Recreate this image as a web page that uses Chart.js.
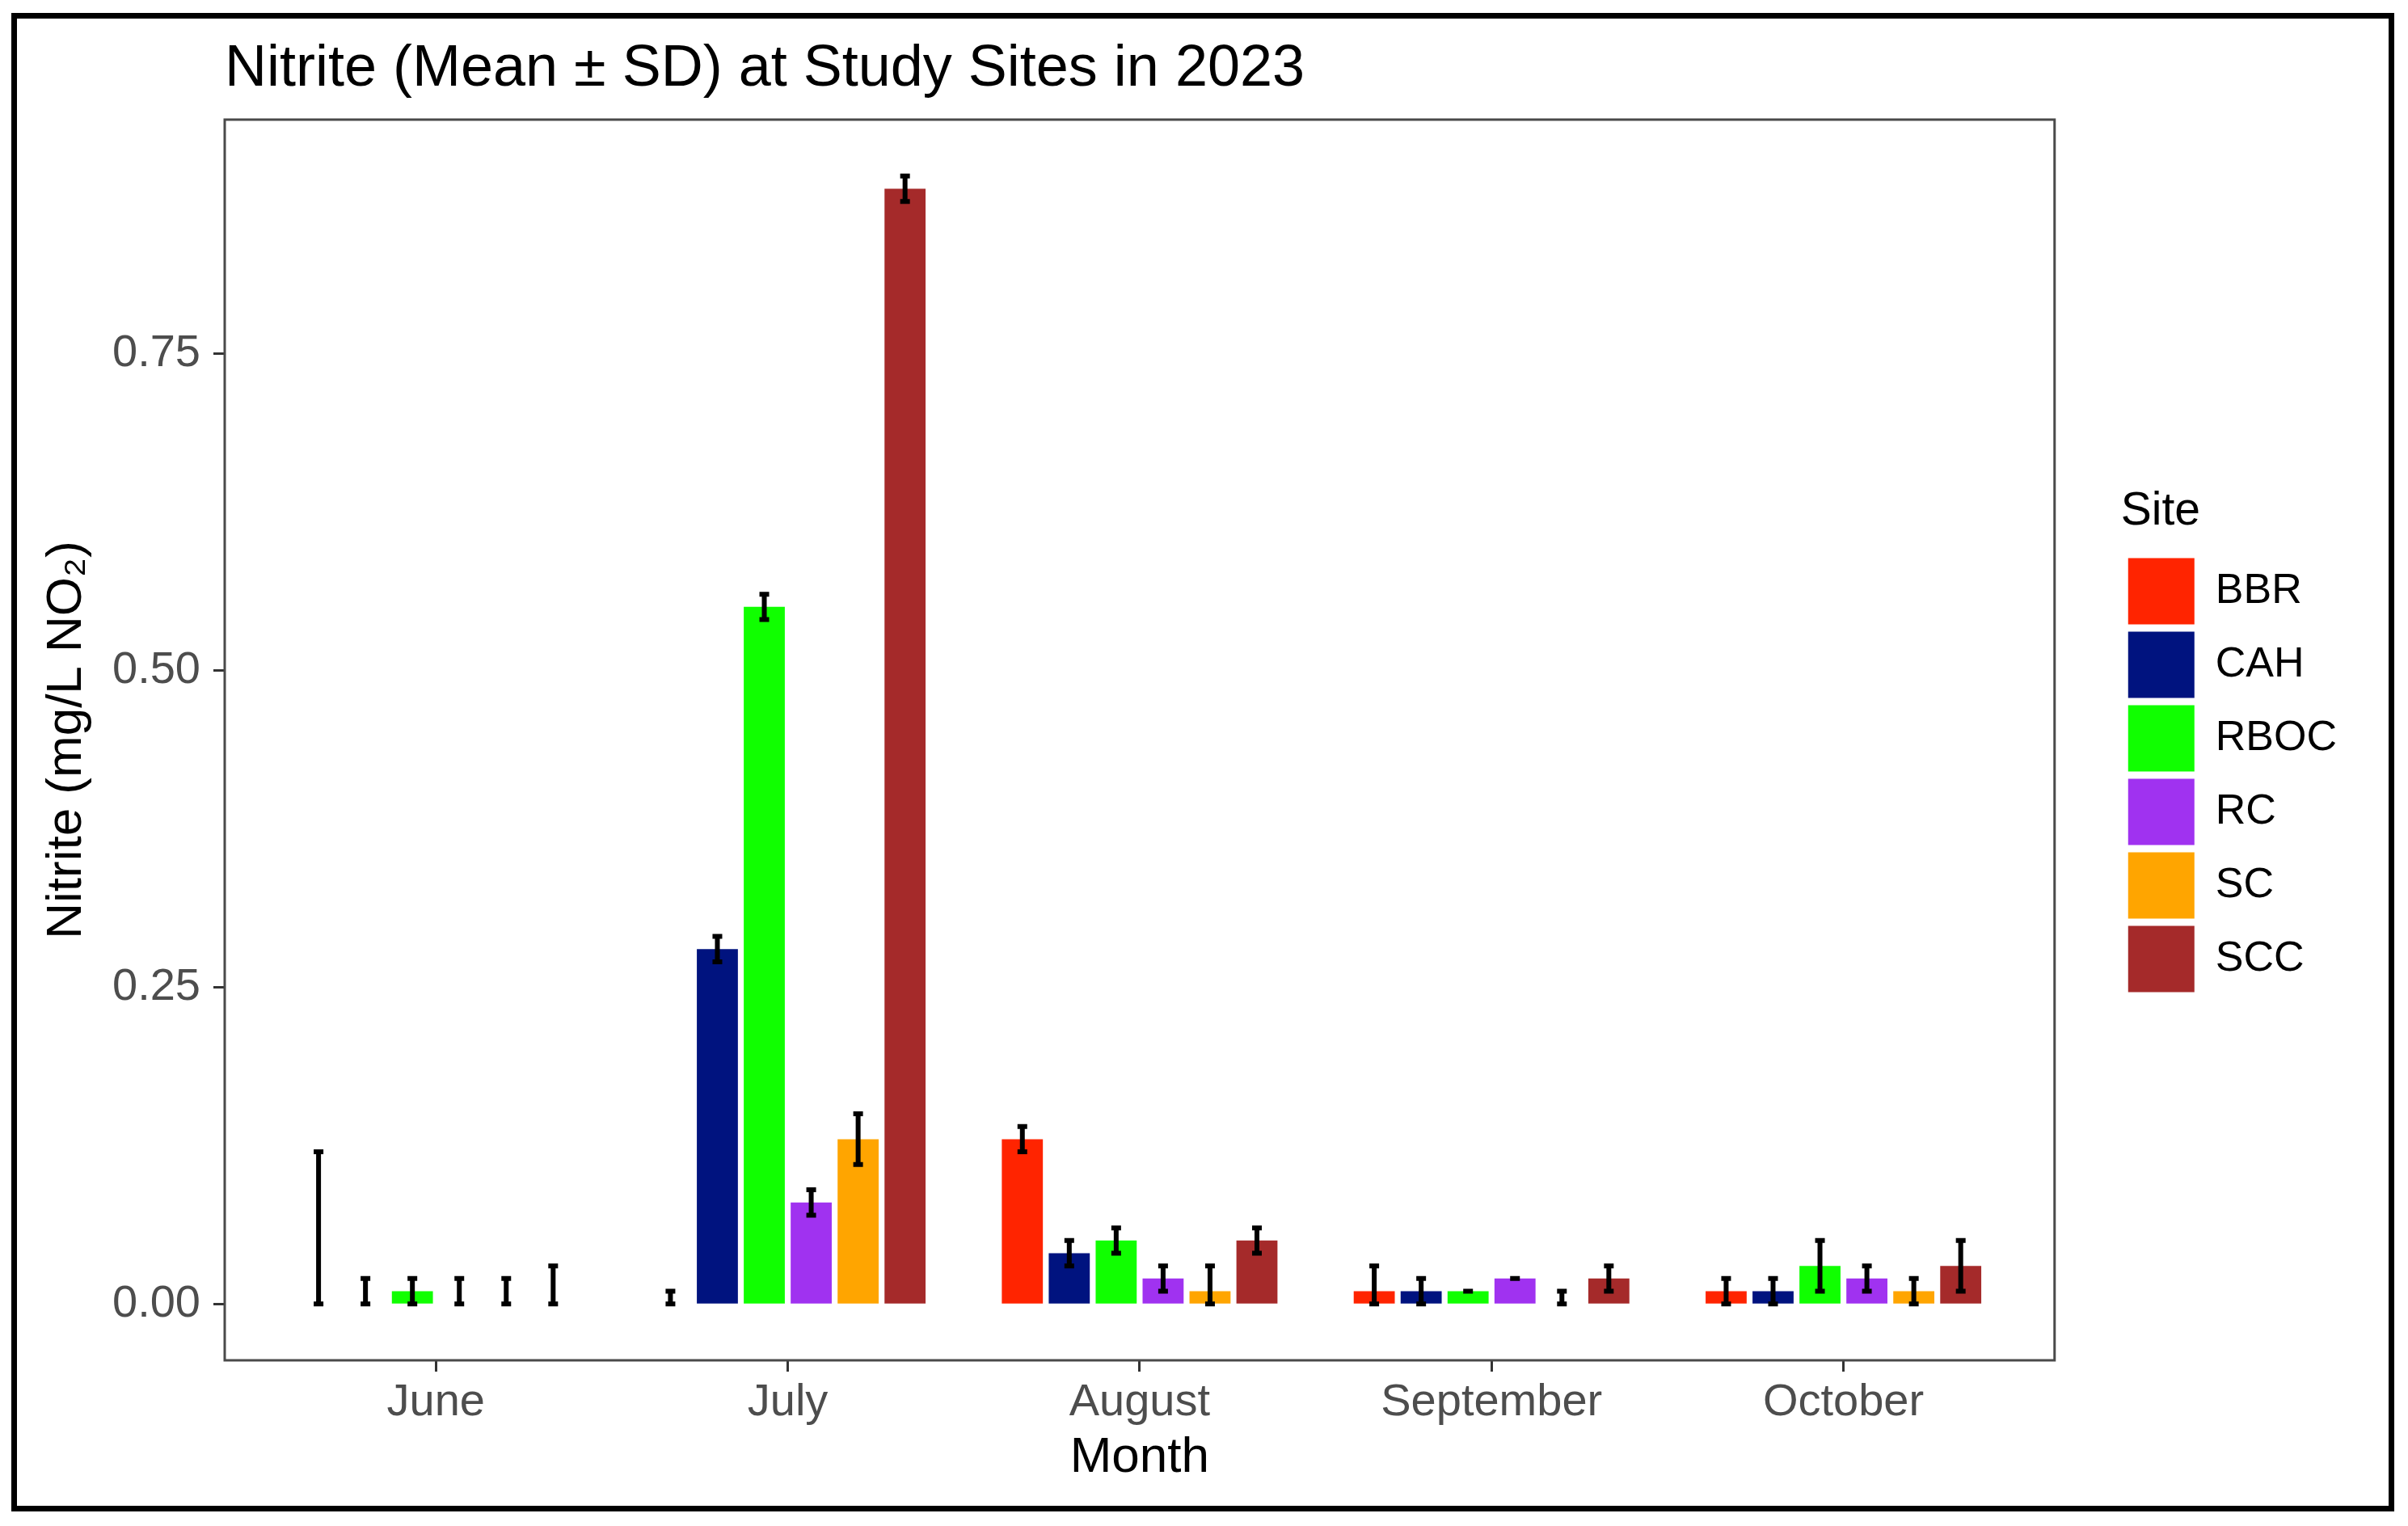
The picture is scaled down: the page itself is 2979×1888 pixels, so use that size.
<!DOCTYPE html>
<html>
<head>
<meta charset="utf-8">
<script src="https://cdn.jsdelivr.net/npm/chart.js@4.4.1/dist/chart.umd.min.js"></script>
<style>
  html, body { margin: 0; padding: 0; background: #ffffff; }
  #wrap { width: 2979px; height: 1888px; }
</style>
</head>
<body>
<div id="wrap"><canvas id="c" width="2979" height="1888"></canvas></div>
<script>
// ---------------- data ----------------
const months = ['June', 'July', 'August', 'September', 'October'];
const sites = ['BBR', 'CAH', 'RBOC', 'RC', 'SC', 'SCC'];
const siteColors = ['#FF2400', '#00137F', '#10FF00', '#A032F0', '#FFA500', '#A52A2A'];

// mean nitrite per site (June..October)
const meanBBR  = [0.00, 0.00, 0.13, 0.01, 0.01];
const meanCAH  = [0.00, 0.28, 0.04, 0.01, 0.01];
const meanRBOC = [0.01, 0.55, 0.05, 0.01, 0.03];
const meanRC   = [0.00, 0.08, 0.02, 0.02, 0.02];
const meanSC   = [0.00, 0.13, 0.01, 0.00, 0.01];
const meanSCC  = [0.00, 0.88, 0.05, 0.02, 0.03];

// standard deviations
const sdBBR  = [0.12, 0.01, 0.01, 0.02, 0.01];
const sdCAH  = [0.02, 0.01, 0.01, 0.01, 0.01];
const sdRBOC = [0.01, 0.01, 0.01, 0.00, 0.02];
const sdRC   = [0.02, 0.01, 0.01, 0.00, 0.01];
const sdSC   = [0.02, 0.02, 0.02, 0.01, 0.01];
const sdSCC  = [0.03, 0.01, 0.01, 0.01, 0.02];

const yTickValues = [0, 0.25, 0.5, 0.75];
const yTickLabels = ['0.00', '0.25', '0.50', '0.75'];

const meansList = [meanBBR, meanCAH, meanRBOC, meanRC, meanSC, meanSCC];
const sdList = [sdBBR, sdCAH, sdRBOC, sdRC, sdSC, sdSCC];

// ---------------- chart ----------------
Chart.defaults.font.family = "'Liberation Sans', Arial, Helvetica, sans-serif";

const datasets = sites.map((s, k) => ({
  label: s,
  data: meansList[k].map((v, i) => ({ x: i, y: v })),
  sd: sdList[k],
  backgroundColor: siteColors[k],
  borderWidth: 0,
  barPercentage: 0.875,
  categoryPercentage: 0.8,
  yAxisID: 'y',
  xAxisID: 'x'
}));

const framePlugin = {
  id: 'frame',
  beforeDraw(chart) {
    const ctx = chart.ctx;
    ctx.save();
    ctx.fillStyle = '#ffffff';
    ctx.fillRect(0, 0, chart.width, chart.height);
    ctx.restore();
  },
  afterDraw(chart) {
    const ctx = chart.ctx;
    ctx.save();
    ctx.strokeStyle = '#000000';
    ctx.lineWidth = 7;
    ctx.strokeRect(17.5, 19.5, 2941, 1847);
    ctx.restore();
  }
};

const panelPlugin = {
  id: 'panel',
  afterDatasetsDraw(chart) {
    const ctx = chart.ctx;
    const ys = chart.scales.y;
    // error bars
    ctx.save();
    ctx.strokeStyle = '#000000';
    ctx.lineWidth = 6;
    ctx.lineCap = 'butt';
    chart.data.datasets.forEach((ds, k) => {
      const meta = chart.getDatasetMeta(k);
      meta.data.forEach((el, i) => {
        const m = ds.data[i].y;
        const sd = ds.sd[i];
        const lo = Math.max(0, m - sd);
        const hi = m + sd;
        const x = el.x;
        const yLo = ys.getPixelForValue(lo);
        const yHi = ys.getPixelForValue(hi);
        const hw = 6;
        ctx.beginPath();
        ctx.moveTo(x, yLo + 3);
        ctx.lineTo(x, yHi - 3);
        ctx.moveTo(x - hw, yHi);
        ctx.lineTo(x + hw, yHi);
        ctx.moveTo(x - hw, yLo);
        ctx.lineTo(x + hw, yLo);
        ctx.stroke();
      });
    });
    ctx.restore();
    // panel border
    const a = chart.chartArea;
    ctx.save();
    ctx.strokeStyle = '#4a4a4a';
    ctx.lineWidth = 3;
    ctx.strokeRect(a.left, a.top, a.right - a.left, a.bottom - a.top);
    ctx.restore();
  }
};

new Chart(document.getElementById('c'), {
  type: 'bar',
  data: { datasets },
  plugins: [framePlugin, panelPlugin],
  options: {
    responsive: false,
    animation: false,
    devicePixelRatio: 1,
    layout: { padding: { left: 0, right: 78, top: 0, bottom: 0 } },
    plugins: {
      tooltip: { enabled: false },
      title: {
        display: true,
        text: 'Nitrite (Mean ± SD) at Study Sites in 2023',
        align: 'start',
        fullSize: false,
        color: '#000000',
        font: { size: 72, weight: 'normal' },
        padding: { top: 43, bottom: 18.6 }
      },
      legend: {
        display: true,
        position: 'right',
        align: 'start',
        title: {
          display: true,
          text: 'Site',
          position: 'start',
          color: '#000000',
          font: { size: 57, weight: 'normal' },
          padding: { top: 605, bottom: 8 }
        },
        labels: {
          boxWidth: 82,
          boxHeight: 82,
          padding: 9,
          color: '#000000',
          font: { size: 52 }
        }
      }
    },
    scales: {
      x: {
        type: 'linear',
        position: 'bottom',
        min: -0.6,
        max: 4.6,
        offset: false,
        afterBuildTicks(scale) { scale.ticks = months.map((m, i) => ({ value: i })); },
        afterFit(scale) { scale.height = 205; },
        ticks: {
          autoSkip: false,
          maxRotation: 0,
          padding: 5,
          color: '#4D4D4D',
          font: { size: 56 },
          callback: (v, i) => months[i]
        },
        grid: {
          display: true,
          offset: false,
          drawOnChartArea: false,
          drawTicks: true,
          tickLength: 14,
          tickColor: '#333333',
          tickWidth: 3
        },
        border: { display: false },
        title: {
          display: true,
          text: 'Month',
          color: '#000000',
          font: { size: 62 },
          padding: { top: 0, bottom: 47 }
        }
      },
      y: {
        type: 'linear',
        position: 'left',
        min: -0.0445,
        max: 0.9345,
        afterBuildTicks(scale) { scale.ticks = yTickValues.map(v => ({ value: v })); },
        afterFit(scale) { scale.width = 278; },
        ticks: {
          padding: 16,
          color: '#4D4D4D',
          font: { size: 56 },
          callback: (v, i) => yTickLabels[i]
        },
        grid: {
          display: true,
          drawOnChartArea: false,
          drawTicks: true,
          tickLength: 14,
          tickColor: '#333333',
          tickWidth: 3
        },
        border: { display: false },
        title: {
          display: true,
          text: 'Nitrite (mg/L NO₂)',
          color: '#000000',
          font: { size: 62 },
          padding: { top: 46, bottom: 0 }
        }
      },
      gap: {
        type: 'linear',
        position: 'right',
        display: true,
        afterFit(scale) { scale.width = 82; },
        ticks: { display: false },
        grid: { display: false, drawTicks: false },
        border: { display: false }
      }
    }
  }
});
</script>
</body>
</html>
